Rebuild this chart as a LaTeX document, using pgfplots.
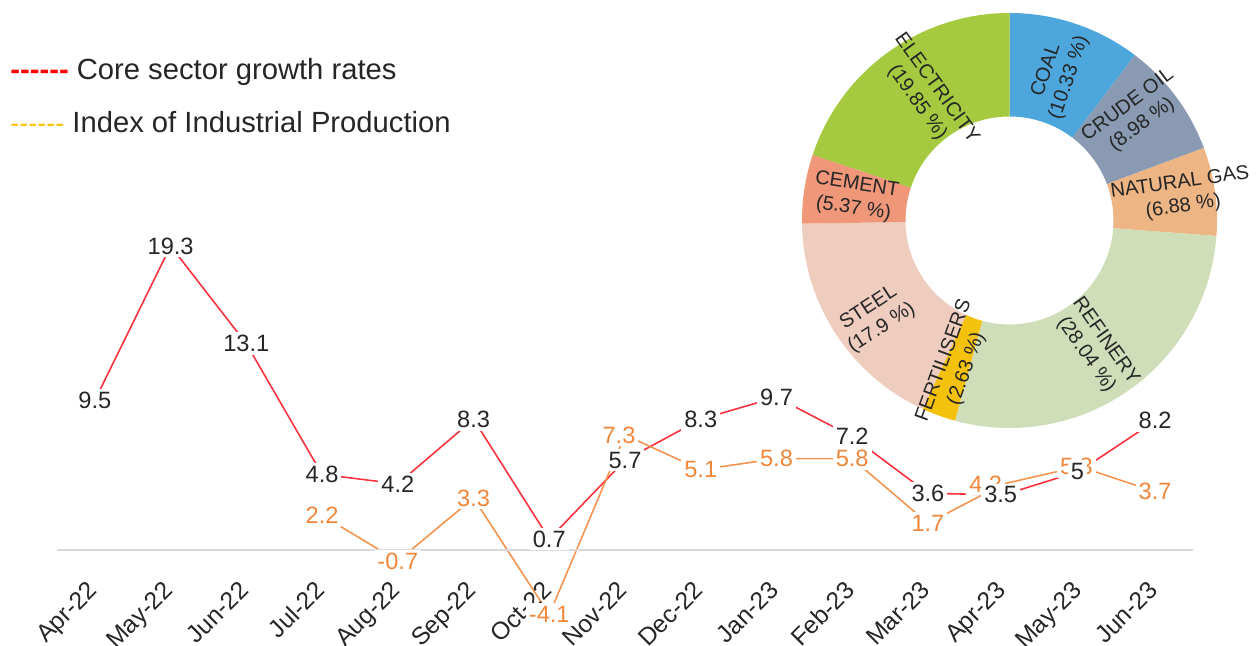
\documentclass[border=0pt]{standalone}
\usepackage{fontspec}
\setmainfont{Liberation Sans}
\usepackage{pgfplots}
\usepackage{pgfplotstable}
\pgfplotsset{compat=1.18}
\usetikzlibrary{calc}

\definecolor{corered}{HTML}{F8333F}
\definecolor{iipline}{HTML}{F39550}
\definecolor{iiplab}{HTML}{F0873A}
\definecolor{legy}{HTML}{FFC000}
\definecolor{txt}{HTML}{262626}
\definecolor{zline}{HTML}{DADADA}
\definecolor{cCoal}{HTML}{4DA7DD}
\definecolor{cCrude}{HTML}{8A9AB3}
\definecolor{cGas}{HTML}{EEB584}
\definecolor{cRef}{HTML}{CFDEB9}
\definecolor{cFert}{HTML}{F4C20D}
\definecolor{cSteel}{HTML}{EECDBE}
\definecolor{cCem}{HTML}{F0977A}
\definecolor{cElec}{HTML}{A6CA3F}

\newcommand\hy{-\kern0pt}

% core sector growth rates
\pgfplotstableread{
x y lab dx
0 9.5 9.5 0
1 19.3 19.3 0
2 13.1 13.1 0
3 4.8 4.8 0
4 4.2 4.2 0
5 8.3 8.3 0
6 0.7 0.7 0
7 5.7 5.7 0
8 8.3 8.3 0
9 9.7 9.7 0
10 7.2 7.2 0
11 3.6 3.6 0
12 3.5 3.5 -1.5
13 5 5 -1
14 8.2 8.2 0
}\coretab

% index of industrial production
\pgfplotstableread{
x y lab dx
3 2.2 2.2 0
4 -0.7 -0.7 0
5 3.3 3.3 0
6 -4.1 -4.1 0
7 7.3 7.3 -3
8 5.1 5.1 0
9 5.8 5.8 0
10 5.8 5.8 0
11 1.7 1.7 0
12 4.2 4.2 -9
13 5.3 5.3 -1.5
14 3.7 3.7 0
}\iiptab

% donut sector: cumulative start %, cumulative end %, colour
\newcommand\sector[3]{%
  \fill[#3] ($(axis cs:0,0)+({90-3.6*#1}:103.75pt)$)
    arc[start angle={90-3.6*#1}, end angle={90-3.6*#2}, radius=103.75pt]
    -- ($(axis cs:0,0)+({90-3.6*#2}:52pt)$)
    arc[start angle={90-3.6*#2}, end angle={90-3.6*#1}, radius=52pt] -- cycle;}
\newcommand\dlabel[4]{%
  \node[rotate=#2, align=center, inner sep=0pt, text=txt,
        font=\fontsize{10}{12}\selectfont]
    at ($(axis cs:0,0)+(#1:#3)$) {#4};}

\begin{document}
\begin{tikzpicture}
\path[use as bounding box] (0,0) rectangle (630pt,323pt);

% legend
\node[anchor=base west, inner sep=0pt, text=txt, font=\fontsize{14.6}{17}\selectfont]
  at (5pt,283pt) {\textcolor{red}{\bfseries\hy\hy\hy\hy\hy\hy} Core sector growth rates};
\node[anchor=base west, inner sep=0pt, text=txt, font=\fontsize{14.6}{17}\selectfont]
  at (5pt,256.5pt) {{\fontsize{13.5}{15}\selectfont\textcolor{legy}{\hy\hy\hy\hy\hy\hy}} Index of Industrial Production};

% donut
\begin{axis}[
  at={(504.75pt,212.75pt)}, anchor=center,
  width=207.5pt, height=207.5pt, scale only axis,
  hide axis, clip=false,
  xmin=-1, xmax=1, ymin=-1, ymax=1,
]
\sector{0}{10.33}{cCoal}
\sector{10.33}{19.31}{cCrude}
\sector{19.31}{26.19}{cGas}
\sector{26.19}{54.23}{cRef}
\sector{54.23}{56.86}{cFert}
\sector{56.86}{74.76}{cSteel}
\sector{74.76}{80.13}{cCem}
\sector{80.13}{100}{cElec}
\dlabel{71.7}{71.4}{77pt}{COAL\\(10.33 \%)}
\dlabel{40}{36.6}{82pt}{CRUDE OIL\\(8.98 \%)}
\dlabel{8.4}{8.1}{87pt}{NATURAL GAS\\(6.88 \%)}
\dlabel{-56}{-54.8}{77pt}{REFINERY\\(28.04 \%)}
\dlabel{-110.5}{70}{77pt}{FERTILISERS\\(2.63 \%)}
\dlabel{-144}{33.1}{83pt}{STEEL\\(17.9 \%)}
\dlabel{171.4}{-8.8}{78pt}{CEMENT\\(5.37 \%)}
\dlabel{123.5}{-54.2}{75pt}{ELECTRICITY\\(19.85 \%)}
\end{axis}

% line chart
\begin{axis}[
  at={(28.5pt,30.675pt)}, anchor=south west,
  width=568pt, height=190.575pt, scale only axis,
  xmin=-0.5, xmax=14.5, ymin=-2.2, ymax=22,
  clip=false, axis on top,
  axis line style={draw=none},
  ytick=\empty,
  xtick={0,...,14},
  xticklabels={Apr-22,May-22,Jun-22,Jul-22,Aug-22,Sep-22,Oct-22,Nov-22,Dec-22,Jan-23,Feb-23,Mar-23,Apr-23,May-23,Jun-23},
  major tick length=0pt,
  xticklabel style={rotate=45, anchor=north east, inner sep=0pt, xshift=-1pt, yshift=5pt,
    font=\fontsize{12.3}{14}\selectfont, text=txt},
  extra y ticks={0}, extra y tick labels={},
  extra y tick style={grid=major, major grid style={draw=zline, line width=1pt}},
]
\addplot[corered, line width=0.8pt, mark=none] table[x=x, y=y]{\coretab};
\addplot[iipline, line width=0.8pt, mark=none] table[x=x, y=y]{\iiptab};
\addplot[draw=none, mark=none, nodes near coords, point meta=explicit symbolic,
  visualization depends on={\thisrow{dx} \as \dx},
  every node near coord/.append style={anchor=center, fill=white, inner sep=1.5pt,
    text=iiplab, font=\fontsize{11.8}{13}\selectfont, xshift=\dx}]
  table[x=x, y=y, meta=lab]{\iiptab};
\addplot[draw=none, mark=none, nodes near coords, point meta=explicit symbolic,
  visualization depends on={\thisrow{dx} \as \dx},
  every node near coord/.append style={anchor=center, fill=white, inner sep=1.5pt,
    text=txt, font=\fontsize{11.8}{13}\selectfont, xshift=\dx}]
  table[x=x, y=y, meta=lab]{\coretab};
\end{axis}
\end{tikzpicture}
\end{document}
